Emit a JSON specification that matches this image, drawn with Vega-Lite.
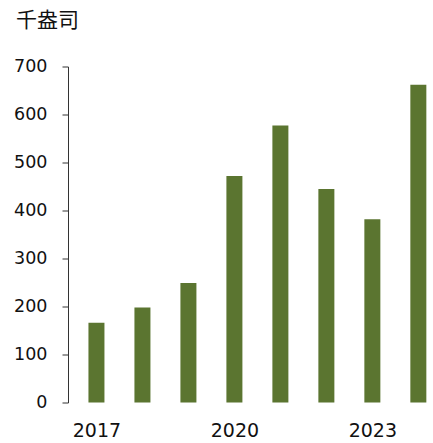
{
  "$schema": "https://vega.github.io/schema/vega-lite/v6.json",
  "width": 365,
  "height": 336,
  "autosize": {"type": "none"},
  "padding": {"left": 68, "top": 66.5, "right": 0, "bottom": 40.5},
  "title": {
    "text": "千盎司",
    "anchor": "start",
    "frame": "group",
    "dx": -52,
    "offset": 27,
    "font": "Noto Sans CJK SC",
    "fontSize": 21,
    "fontWeight": "normal",
    "color": "#111111"
  },
  "data": {
    "values": [
      {"year": 2017, "value": 166},
      {"year": 2018, "value": 198},
      {"year": 2019, "value": 249},
      {"year": 2020, "value": 472},
      {"year": 2021, "value": 577},
      {"year": 2022, "value": 445},
      {"year": 2023, "value": 382},
      {"year": 2024, "value": 662}
    ]
  },
  "mark": {"type": "bar", "size": 16, "color": "#5b7530"},
  "encoding": {
    "x": {
      "field": "year",
      "type": "quantitative",
      "scale": {"domain": [2016.49, 2024.21], "nice": false, "zero": false},
      "axis": {
        "values": [2017, 2020, 2023],
        "format": "d",
        "ticks": false,
        "domain": false,
        "grid": false,
        "title": null,
        "labelFont": "DejaVu Sans",
        "labelFontSize": 19,
        "labelColor": "#111111",
        "labelPadding": 19
      }
    },
    "y": {
      "field": "value",
      "type": "quantitative",
      "scale": {"domain": [0, 700], "nice": false},
      "axis": {
        "values": [0, 100, 200, 300, 400, 500, 600, 700],
        "grid": false,
        "title": null,
        "tickSize": 6,
        "tickColor": "#333333",
        "domainColor": "#333333",
        "labelFont": "DejaVu Sans",
        "labelFontSize": 17.5,
        "labelColor": "#111111",
        "labelPadding": 15
      }
    }
  },
  "config": {"view": {"stroke": null}}
}
